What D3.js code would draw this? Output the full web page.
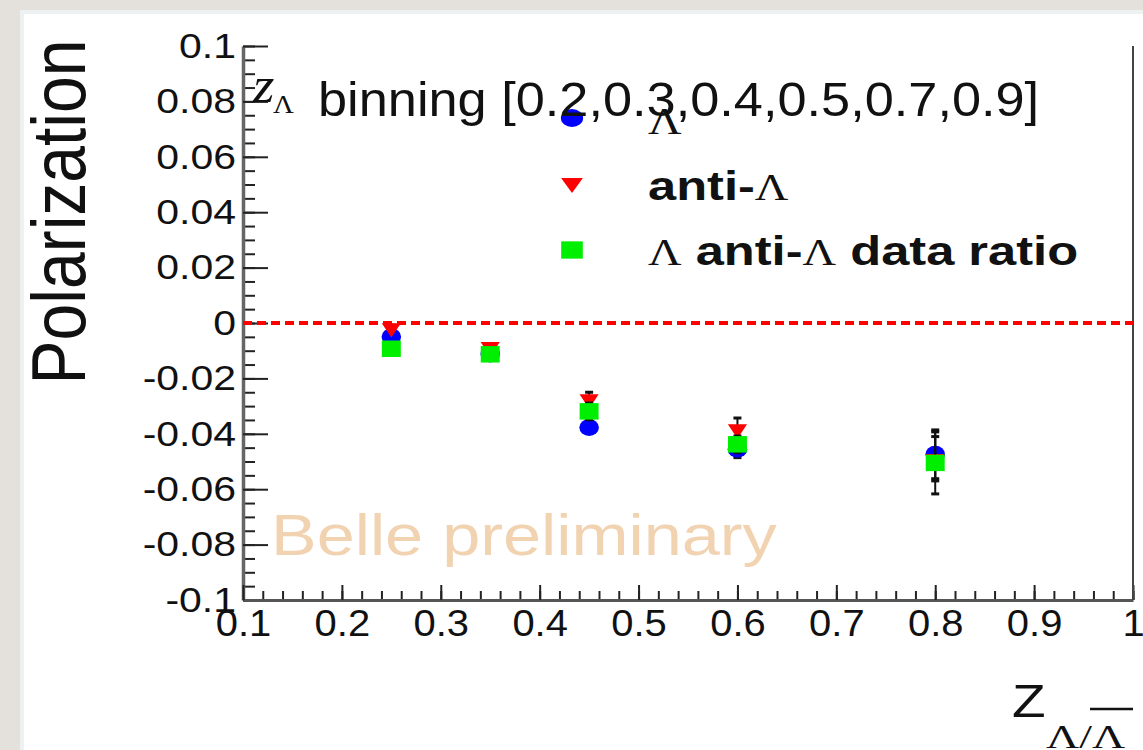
<!DOCTYPE html>
<html>
<head>
<meta charset="utf-8">
<script src="https://cdn.jsdelivr.net/npm/d3@7"></script>
<style>
	html, body { margin: 0; padding: 0; background: #e4e1dd; }
	svg { display: block; }
</style>
</head>
<body>
<svg id="chart" width="1143" height="750"></svg>
<script>
// binning and bin centres
const zEdges = [0.2, 0.3, 0.4, 0.5, 0.7, 0.9];
const zCenters = [0.25, 0.35, 0.45, 0.6, 0.8];

// polarization per bin
const lambdaPol = [-0.005, -0.0112, -0.0377, -0.0456, -0.0474];
const lambdaErr = [0.002, 0.002, 0.002, 0.003, 0.0088];
const antiPol = [-0.0018, -0.0086, -0.0275, -0.0383, -0.049];
const antiErr = [0.001, 0.001, 0.0025, 0.004, 0.008];
const ratioPol = [-0.0093, -0.0113, -0.0319, -0.0438, -0.0505];
const ratioErr = [0.002, 0.002, 0.003, 0.003, 0.0112];

// axis ticks
const xTickValues = [0.1, 0.2, 0.3, 0.4, 0.5, 0.6, 0.7, 0.8, 0.9, 1];
const yTickValues = [-0.1, -0.08, -0.06, -0.04, -0.02, 0, 0.02, 0.04, 0.06, 0.08, 0.1];

const SANS = '"Liberation Sans", Arial, Helvetica, sans-serif';
const SERIF = '"Liberation Serif", "Times New Roman", serif';

const svg = d3.select('#chart');

// slide panel
svg.append('rect')
	.attr('x', 22)
	.attr('y', 12)
	.attr('width', 1143)
	.attr('height', 760)
	.attr('fill', '#ffffff')
	.attr('stroke', '#edf1f1')
	.attr('stroke-width', 4);

const x = d3.scaleLinear().domain([0.1, 1]).range([243, 1133]);
const y = d3.scaleLinear().domain([-0.1, 0.1]).range([600, 46]);

function addText(px, py, str, size, sx, family, weight) {
	return svg.append('text')
		.attr('transform', `translate(${px},${py}) scale(${sx},1)`)
		.attr('font-family', family || SANS)
		.attr('font-weight', weight || 'normal')
		.attr('font-size', size)
		.attr('fill', '#111')
		.text(str);
}

// Belle preliminary watermark (behind the data)
addText(271, 555, 'Belle preliminary', 58, 1.18).attr('fill', '#f2d3b1');

// minor ticks
svg.append('g')
	.attr('transform', `translate(${x(0.1)},0)`)
	.call(d3.axisLeft(y).tickValues(d3.range(-20, 21).map((i) => i * 0.005)).tickSizeInner(-12).tickSizeOuter(0).tickFormat(''))
	.call((g) => g.select('.domain').remove())
	.selectAll('line').attr('stroke', '#222').attr('stroke-width', 2);

svg.append('g')
	.attr('transform', `translate(0,${y(-0.1)})`)
	.call(d3.axisBottom(x).tickValues(d3.range(5, 51).map((i) => i * 0.02)).tickSizeInner(-9).tickSizeOuter(0).tickFormat(''))
	.call((g) => g.select('.domain').remove())
	.selectAll('line').attr('stroke', '#222').attr('stroke-width', 2);

// major axes
const yAxisG = svg.append('g')
	.attr('transform', `translate(${x(0.1)},0)`)
	.call(d3.axisLeft(y).tickValues(yTickValues).tickSizeInner(-25).tickSizeOuter(0).tickPadding(6)
		.tickFormat((d) => String(+d.toFixed(2))));
yAxisG.attr('font-size', 35).attr('font-family', SANS);
yAxisG.selectAll('text').attr('fill', '#111').attr('transform', 'scale(1.17,1)');
yAxisG.selectAll('line').attr('stroke', '#222').attr('stroke-width', 2);
yAxisG.select('.domain').attr('stroke', '#666').attr('stroke-width', 3.5);

const xAxisG = svg.append('g')
	.attr('transform', `translate(0,${y(-0.1)})`)
	.call(d3.axisBottom(x).tickValues(xTickValues).tickSizeInner(-15).tickSizeOuter(0).tickPadding(10)
		.tickFormat((d) => String(d)));
xAxisG.attr('font-size', 37).attr('font-family', SANS);
xAxisG.selectAll('text').attr('fill', '#111').attr('transform', 'scale(1.08,1)');
xAxisG.selectAll('line').attr('stroke', '#222').attr('stroke-width', 2);
xAxisG.select('.domain').attr('stroke', '#555').attr('stroke-width', 3);

// right frame edge
svg.append('line')
	.attr('x1', x(1)).attr('x2', x(1))
	.attr('y1', y(0.1)).attr('y2', y(-0.1))
	.attr('stroke', '#444')
	.attr('stroke-width', 2);

// zero line
svg.append('line')
	.attr('x1', x(0.1)).attr('x2', x(1))
	.attr('y1', y(0)).attr('y2', y(0))
	.attr('stroke', '#ff0000')
	.attr('stroke-width', 4)
	.attr('stroke-dasharray', '9,5');

const series = [
	{ values: lambdaPol, errors: lambdaErr, color: '#0000ff', type: d3.symbolCircle, size: 227, rot: 0, label: 'lambda' },
	{ values: antiPol, errors: antiErr, color: '#ff0000', type: d3.symbolTriangle, size: 120, rot: 180, label: 'anti' },
	{ values: ratioPol, errors: ratioErr, color: '#00ee00', type: d3.symbolSquare, size: 272, rot: 0, label: 'ratio' }
];

series.forEach((s) => {
	const pts = zCenters.map((z, i) => ({ z, v: s.values[i], e: s.errors[i] }));
	const g = svg.append('g').attr('class', s.label);

	// error bars
	g.selectAll('line.err')
		.data(pts)
		.enter()
		.append('line')
		.attr('class', 'err')
		.attr('x1', (d) => x(d.z)).attr('x2', (d) => x(d.z))
		.attr('y1', (d) => y(d.v + d.e)).attr('y2', (d) => y(d.v - d.e))
		.attr('stroke', '#111')
		.attr('stroke-width', 2);
	[1, -1].forEach((sign) => {
		g.selectAll(`line.cap${sign}`)
			.data(pts)
			.enter()
			.append('line')
			.attr('x1', (d) => x(d.z) - 4).attr('x2', (d) => x(d.z) + 4)
			.attr('y1', (d) => y(d.v + sign * d.e)).attr('y2', (d) => y(d.v + sign * d.e))
			.attr('stroke', '#111')
			.attr('stroke-width', 3);
	});

	// markers
	g.selectAll('path')
		.data(pts)
		.enter()
		.append('path')
		.attr('d', d3.symbol(s.type, s.size)())
		.attr('transform', (d) => `translate(${x(d.z)},${y(d.v)}) scale(1.15,1) rotate(${s.rot})`)
		.attr('fill', s.color);
});

// legend
const legendY = [118, 183, 250];
series.forEach((s, i) => {
	svg.append('path')
		.attr('d', d3.symbol(s.type, s.size * 1.1)())
		.attr('transform', `translate(572,${legendY[i]}) scale(1.25,1) rotate(${s.rot})`)
		.attr('fill', s.color);
});

function legendText(py, parts) {
	const t = svg.append('text')
		.attr('transform', `translate(648,${py}) scale(1.22,1)`)
		.attr('fill', '#111');
	parts.forEach(([str, greek]) => {
		t.append('tspan')
			.attr('font-family', greek ? SERIF : SANS)
			.attr('font-weight', greek ? 'normal' : 'bold')
			.attr('font-size', greek ? 38 : 41.5)
			.text(str);
	});
}
legendText(134, [['Λ', true]]);
legendText(200, [['anti-', false], ['Λ', true]]);
legendText(265, [['Λ', true], [' anti-', false], ['Λ', true], [' data ratio', false]]);

// title
addText(253, 102, 'z', 50, 1.1, SERIF).attr('font-style', 'italic');
addText(273, 113, 'Λ', 25, 1.15, SERIF);
addText(318, 116, `binning [${zEdges.join(',')}]`, 48, 1.09);

// axis titles
svg.append('text')
	.attr('transform', 'translate(85,212) scale(1.15,1) rotate(-90)')
	.attr('text-anchor', 'middle')
	.attr('font-family', SANS)
	.attr('font-size', 66)
	.attr('fill', '#111')
	.text('Polarization');

addText(1012, 717, 'Z', 47, 1.17);
addText(1046, 748, 'Λ/Λ', 34, 1.35, SERIF);
svg.append('line')
	.attr('x1', 1090).attr('x2', 1133)
	.attr('y1', 709).attr('y2', 709)
	.attr('stroke', '#111')
	.attr('stroke-width', 2.5);
</script>
</body>
</html>
